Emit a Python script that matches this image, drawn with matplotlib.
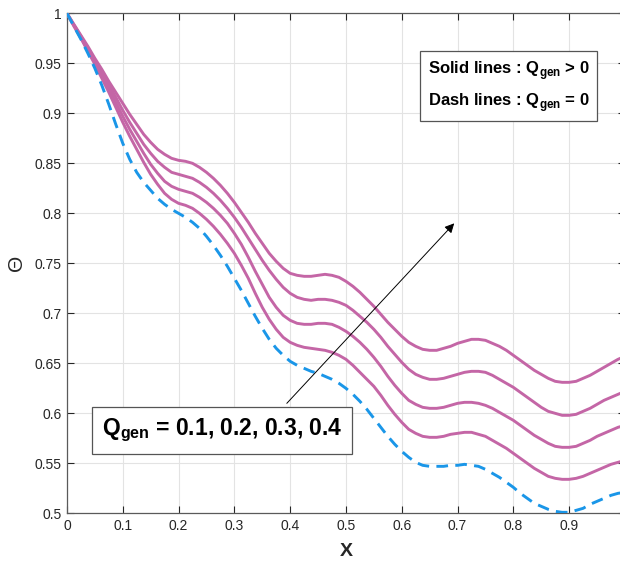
import matplotlib
matplotlib.use("Agg")
import matplotlib.pyplot as plt
import numpy as np

plt.rcParams['font.family'] = ['Liberation Sans', 'DejaVu Sans']
plt.rcParams['mathtext.fontset'] = 'custom'
plt.rcParams['mathtext.rm'] = 'Liberation Sans'
plt.rcParams['mathtext.bf'] = 'Liberation Sans:bold'

x = np.round(np.linspace(0.0, 1.0, 81), 4)

q04 = [1.000, 0.989, 0.978, 0.967, 0.955, 0.944, 0.932, 0.921, 0.910, 0.899,
       0.889, 0.879, 0.871, 0.864, 0.859, 0.855, 0.853, 0.852, 0.850, 0.846,
       0.841, 0.835, 0.828, 0.820, 0.811, 0.801, 0.791, 0.780, 0.770, 0.760,
       0.752, 0.745, 0.740, 0.738, 0.737, 0.737, 0.738, 0.739, 0.738, 0.736,
       0.732, 0.727, 0.721, 0.714, 0.707, 0.699, 0.691, 0.684, 0.677, 0.671,
       0.667, 0.664, 0.663, 0.663, 0.665, 0.667, 0.670, 0.672, 0.674, 0.674,
       0.673, 0.670, 0.667, 0.663, 0.658, 0.653, 0.648, 0.643, 0.639, 0.635,
       0.632, 0.631, 0.631, 0.632, 0.635, 0.638, 0.642, 0.646, 0.650, 0.654,
       0.657]
q03 = [1.000, 0.988, 0.977, 0.965, 0.953, 0.941, 0.929, 0.916, 0.903, 0.891,
       0.880, 0.869, 0.860, 0.852, 0.846, 0.841, 0.839, 0.837, 0.835, 0.831,
       0.826, 0.820, 0.813, 0.805, 0.796, 0.786, 0.775, 0.764, 0.753, 0.743,
       0.734, 0.726, 0.720, 0.716, 0.714, 0.713, 0.714, 0.714, 0.713, 0.711,
       0.708, 0.703, 0.697, 0.691, 0.684, 0.676, 0.667, 0.659, 0.651, 0.644,
       0.639, 0.636, 0.634, 0.634, 0.635, 0.637, 0.639, 0.641, 0.642, 0.642,
       0.641, 0.638, 0.634, 0.630, 0.626, 0.621, 0.616, 0.611, 0.606, 0.602,
       0.600, 0.598, 0.598, 0.599, 0.602, 0.605, 0.609, 0.613, 0.616, 0.619,
       0.622]
q02 = [1.000, 0.988, 0.976, 0.963, 0.951, 0.938, 0.925, 0.911, 0.897, 0.884,
       0.872, 0.860, 0.849, 0.840, 0.832, 0.827, 0.824, 0.822, 0.820, 0.816,
       0.811, 0.805, 0.798, 0.790, 0.780, 0.769, 0.756, 0.742, 0.729, 0.716,
       0.706, 0.698, 0.693, 0.690, 0.689, 0.689, 0.690, 0.690, 0.689, 0.686,
       0.682, 0.677, 0.671, 0.664, 0.656, 0.647, 0.637, 0.628, 0.620, 0.613,
       0.609, 0.606, 0.605, 0.605, 0.606, 0.608, 0.610, 0.611, 0.611, 0.610,
       0.608, 0.605, 0.601, 0.597, 0.593, 0.588, 0.583, 0.578, 0.574, 0.570,
       0.567, 0.566, 0.566, 0.567, 0.570, 0.573, 0.577, 0.580, 0.583, 0.586,
       0.588]
q01 = [1.000, 0.987, 0.975, 0.962, 0.949, 0.935, 0.921, 0.906, 0.891, 0.877,
       0.864, 0.851, 0.839, 0.829, 0.820, 0.814, 0.810, 0.808, 0.805, 0.800,
       0.794, 0.787, 0.779, 0.770, 0.760, 0.748, 0.735, 0.720, 0.706, 0.694,
       0.684, 0.676, 0.671, 0.668, 0.666, 0.665, 0.664, 0.663, 0.661, 0.658,
       0.654, 0.648, 0.641, 0.634, 0.627, 0.618, 0.608, 0.599, 0.591, 0.584,
       0.580, 0.577, 0.576, 0.576, 0.577, 0.579, 0.580, 0.581, 0.581, 0.579,
       0.577, 0.573, 0.569, 0.565, 0.560, 0.555, 0.550, 0.545, 0.541, 0.537,
       0.535, 0.534, 0.534, 0.535, 0.537, 0.540, 0.543, 0.546, 0.549, 0.551,
       0.553]
q00 = [1.000, 0.987, 0.974, 0.960, 0.945, 0.928, 0.909, 0.889, 0.870, 0.854,
       0.841, 0.831, 0.823, 0.815, 0.809, 0.804, 0.800, 0.796, 0.791, 0.785,
       0.777, 0.768, 0.758, 0.747, 0.735, 0.723, 0.710, 0.697, 0.685, 0.674,
       0.665, 0.658, 0.652, 0.648, 0.645, 0.642, 0.640, 0.637, 0.634, 0.630,
       0.625, 0.619, 0.612, 0.604, 0.595, 0.586, 0.577, 0.569, 0.562, 0.556,
       0.551, 0.548, 0.547, 0.547, 0.547, 0.548, 0.548, 0.549, 0.548, 0.547,
       0.544, 0.540, 0.536, 0.531, 0.526, 0.520, 0.515, 0.510, 0.507, 0.504,
       0.502, 0.501, 0.501, 0.503, 0.505, 0.509, 0.512, 0.515, 0.518, 0.520,
       0.521]

xticks = [0, 0.1, 0.2, 0.3, 0.4, 0.5, 0.6, 0.7, 0.8, 0.9, 1.0]
xticklabels = ['0', '0.1', '0.2', '0.3', '0.4', '0.5', '0.6', '0.7', '0.8', '0.9', '']
yticks = [0.5, 0.55, 0.6, 0.65, 0.7, 0.75, 0.8, 0.85, 0.9, 0.95, 1.0]
yticklabels = ['0.5', '0.55', '0.6', '0.65', '0.7', '0.75', '0.8', '0.85', '0.9', '0.95', '1']

pink = '#C466A6'
blue = '#1A96E8'
axc = '#262626'

fig = plt.figure(figsize=(6.2, 5.62), dpi=100)
ax = fig.add_axes([0.108, 0.0866, 0.9, 0.8897])

for s in (q04, q03, q02, q01):
    ax.plot(x, s, color=pink, lw=2.1, solid_capstyle='round',
            solid_joinstyle='round', zorder=3)
ax.plot(x, q00, color=blue, lw=2.1, dashes=(4, 2.5), zorder=3)

ax.set_xlim(0, 1)
ax.set_ylim(0.5, 1)
ax.set_xticks(xticks)
ax.set_xticklabels(xticklabels)
ax.set_yticks(yticks)
ax.set_yticklabels(yticklabels)
ax.grid(True, color='#E3E3E3', lw=0.8, zorder=0)
ax.set_axisbelow(True)
ax.tick_params(direction='in', top=True, right=True, length=5, width=0.8,
               colors=axc, labelsize=10, labelcolor=axc, pad=4)
for sp in ax.spines.values():
    sp.set_color('#5a5a5a')
    sp.set_linewidth(0.9)

ax.set_xlabel('X', fontsize=14, fontweight='bold', color=axc, labelpad=7)
ax.set_ylabel('Θ', fontsize=15, color=axc, labelpad=6)

ax.text(0.791, 0.927,
        'Solid lines : Q$_{\\mathbf{gen}}$ > 0\nDash lines : Q$_{\\mathbf{gen}}$ = 0',
        fontsize=12, fontweight='bold', va='center', ha='center', linespacing=1.6,
        bbox=dict(boxstyle='square,pad=0.45', fc='white', ec='#555555', lw=0.9), zorder=5)

ax.text(0.278, 0.583, 'Q$_{\\mathbf{gen}}$ = 0.1, 0.2, 0.3, 0.4',
        fontsize=16.5, fontweight='bold', va='center', ha='center',
        bbox=dict(boxstyle='square,pad=0.42', fc='white', ec='#555555', lw=0.9), zorder=5)

ax.annotate('', xy=(0.694, 0.790), xytext=(0.394, 0.610),
            arrowprops=dict(arrowstyle='-|>', color='black', lw=0.7,
                            mutation_scale=14, shrinkA=0, shrinkB=0), zorder=4)

fig.savefig('out.png', dpi=100)
